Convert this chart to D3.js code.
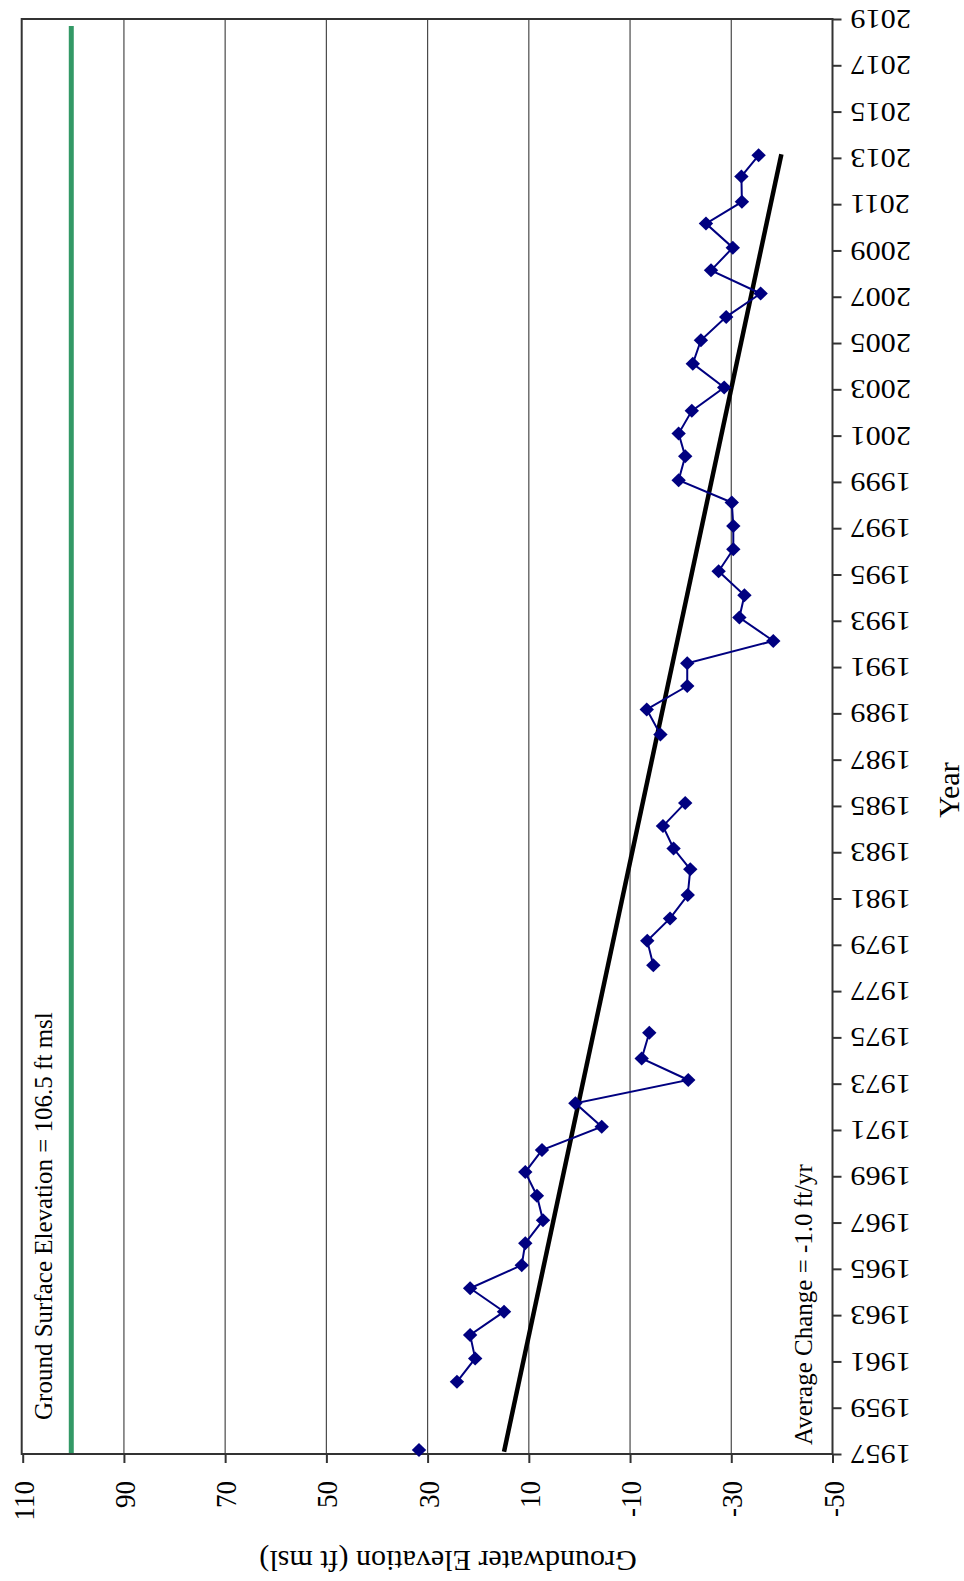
<!DOCTYPE html>
<html>
<head>
<meta charset="utf-8">
<script src="https://cdn.jsdelivr.net/npm/d3@7"></script>
<style>
  html, body { margin: 0; padding: 0; background: #fff; }
  svg { display: block; font-family: "Liberation Serif", "Times New Roman", serif; }
</style>
</head>
<body>
<svg id="chart" width="964" height="1581"></svg>
<script>
// Groundwater elevation measurements (decimal year, ft msl)
const years = [
  1957.17, 1960.12, 1961.13, 1962.14, 1963.15, 1964.16, 1965.16, 1966.11, 1967.10,
  1968.16, 1969.18, 1970.13, 1971.14, 1972.15, 1973.16, 1974.09, 1975.20,
  1978.12, 1979.17, 1980.14, 1981.15, 1982.26, 1983.16, 1984.13, 1985.13,
  1988.09, 1989.17, 1990.18, 1991.16, 1992.13, 1993.14, 1994.10, 1995.14, 1996.09,
  1997.10, 1998.11, 1999.07, 2000.11, 2001.09, 2002.07, 2003.08, 2004.11, 2005.12,
  2006.13, 2007.14, 2008.14, 2009.12, 2010.16, 2011.10, 2012.20, 2013.11
];
const elevations = [
  31.7, 24.2, 20.6, 21.6, 14.9, 21.6, 11.4, 10.7, 7.2,
  8.4, 10.7, 7.4, -4.4, 0.8, -21.5, -12.3, -13.8,
  -14.6, -13.4, -17.9, -21.4, -21.9, -18.6, -16.5, -20.9,
  -16.0, -13.3, -21.3, -21.3, -38.3, -31.6, -32.6, -27.5, -30.4,
  -30.4, -30.1, -19.6, -20.9, -19.6, -22.2, -28.6, -22.4, -24.0,
  -29.0, -35.8, -26.0, -30.3, -25.0, -32.1, -32.0, -35.4
];

// Linear trend (average change about -1.0 ft/yr)
const trendYears = [1957.1, 2013.16];
const trendElevations = [14.9, -39.9];

// Ground surface reference line
const surfaceYears = [1957, 2018.7];
const surfaceElevations = [100.4, 100.4];

// Axis ticks
const yearTicks = d3.range(1957, 2020, 2);
const elevationTicks = [110, 90, 70, 50, 30, 10, -10, -30, -50];
const elevationGrid = [90, 70, 50, 30, 10, -10, -30];

const surfaceLabel = "Ground Surface Elevation = 106.5 ft msl";
const trendLabel = "Average Change = -1.0 ft/yr";
const valueTitle = "Groundwater Elevation (ft msl)";
const timeTitle = "Year";

// Chart is laid out on its side: time runs upward, elevation runs left to right (high to low)
const plot = { left: 22.7, right: 832.5, top: 19, bottom: 1454 };

const yTime = d3.scaleLinear().domain([1957, 2019]).range([plot.bottom, plot.top]);
const xElev = d3.scaleLinear().domain([110, -50]).range([plot.left, plot.right]);

const svg = d3.select("#chart");

// vertical grid lines
svg.append("g").selectAll("line").data(elevationGrid).join("line")
  .attr("x1", d => xElev(d)).attr("x2", d => xElev(d))
  .attr("y1", plot.top).attr("y2", plot.bottom)
  .attr("stroke", "#4a4a4a").attr("stroke-width", 1.2);

// ground surface line
svg.append("line")
  .attr("x1", xElev(surfaceElevations[0])).attr("x2", xElev(surfaceElevations[1]))
  .attr("y1", yTime(surfaceYears[0])).attr("y2", yTime(surfaceYears[1]))
  .attr("stroke", "#339966").attr("stroke-width", 5);

// plot frame
svg.append("rect")
  .attr("x", plot.left - 1).attr("y", plot.top)
  .attr("width", plot.right - plot.left + 1).attr("height", plot.bottom - plot.top)
  .attr("fill", "none").attr("stroke", "#333").attr("stroke-width", 2);

const plainNumber = d => String(d);

// time axis on the right
const timeAxis = svg.append("g")
  .attr("transform", `translate(${plot.right},0)`)
  .call(d3.axisRight(yTime).tickValues(yearTicks).tickFormat(plainNumber).tickSize(9).tickSizeOuter(0));
timeAxis.select(".domain").remove();
timeAxis.selectAll(".tick line").attr("stroke", "#333").attr("stroke-width", 2);
timeAxis.selectAll(".tick text")
  .attr("x", null).attr("dy", null)
  .attr("transform", "translate(18,0) scale(1.12,1) rotate(180)")
  .attr("text-anchor", "end")
  .attr("dominant-baseline", "central")
  .attr("font-size", 27)
  .attr("font-family", "Liberation Serif")
  .attr("fill", "#000");

// elevation axis at the bottom
const elevAxis = svg.append("g")
  .attr("transform", `translate(0,${plot.bottom})`)
  .call(d3.axisBottom(xElev).tickValues(elevationTicks).tickFormat(plainNumber).tickSize(9).tickSizeOuter(0));
elevAxis.select(".domain").remove();
elevAxis.selectAll(".tick line").attr("stroke", "#333").attr("stroke-width", 2);
elevAxis.selectAll(".tick text")
  .attr("y", null).attr("dy", null)
  .attr("transform", "translate(0,27) scale(1.12,1) rotate(-90)")
  .attr("text-anchor", "end")
  .attr("dominant-baseline", "central")
  .attr("font-size", 27)
  .attr("font-family", "Liberation Serif")
  .attr("fill", "#000");

// trend line
svg.append("line")
  .attr("x1", xElev(trendElevations[0])).attr("y1", yTime(trendYears[0]))
  .attr("x2", xElev(trendElevations[1])).attr("y2", yTime(trendYears[1]))
  .attr("stroke", "#000").attr("stroke-width", 4.5);

// measurement series, broken where there is no record for more than a year
const points = years.map((y, i) => ({ year: y, elev: elevations[i] }));
const segments = [];
points.forEach((p, i) => {
  if (i === 0 || p.year - points[i - 1].year > 1.5) segments.push([]);
  segments[segments.length - 1].push(p);
});
const line = d3.line().x(d => xElev(d.elev)).y(d => yTime(d.year));
svg.append("g").selectAll("path").data(segments).join("path")
  .attr("d", line)
  .attr("fill", "none").attr("stroke", "#000080").attr("stroke-width", 2);

const diamond = "M0,-7L7.2,0L0,7L-7.2,0Z";
svg.append("g").selectAll("path").data(points).join("path")
  .attr("d", diamond)
  .attr("transform", d => `translate(${xElev(d.elev)},${yTime(d.year)})`)
  .attr("fill", "#000080");

// annotations
svg.append("text")
  .attr("transform", `translate(52,1420) rotate(-90)`)
  .attr("font-size", 25).attr("fill", "#000")
  .text(surfaceLabel);

svg.append("text")
  .attr("transform", `translate(812,1445) rotate(-90)`)
  .attr("font-size", 25).attr("fill", "#000")
  .text(trendLabel);

// axis titles
svg.append("text")
  .attr("transform", `translate(448,1561) rotate(180)`)
  .attr("text-anchor", "middle").attr("dominant-baseline", "central")
  .attr("font-size", 30).attr("fill", "#000")
  .text(valueTitle);

svg.append("text")
  .attr("transform", `translate(948,790) rotate(-90)`)
  .attr("text-anchor", "middle").attr("dominant-baseline", "central")
  .attr("font-size", 30).attr("fill", "#000")
  .text(timeTitle);
</script>
</body>
</html>
